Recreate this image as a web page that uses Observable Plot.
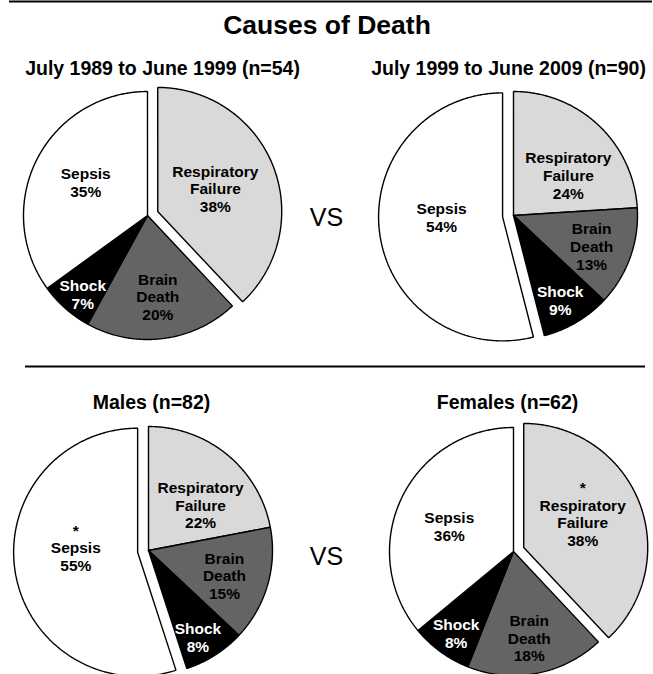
<!DOCTYPE html>
<html><head><meta charset="utf-8">
<script src="https://cdn.jsdelivr.net/npm/d3@7"></script>
<script src="https://cdn.jsdelivr.net/npm/@observablehq/plot@0.6"></script>
<style>body{margin:0;background:#fff;}</style>
</head><body><div id="chart"></div>
<script>
// ---- data ----
const title = "Causes of Death";
const versus = "VS";
const causes = ["Respiratory Failure", "Brain Death", "Shock", "Sepsis"];
const labelLines = [["Respiratory", "Failure"], ["Brain", "Death"], ["Shock"], ["Sepsis"]];
const panelTitles = ["July 1989 to June 1999 (n=54)", "July 1999 to June 2009 (n=90)", "Males (n=82)", "Females (n=62)"];
const pct1989 = [38, 20, 7, 35];
const pct1999 = [24, 13, 9, 54];
const pctMales = [22, 15, 8, 55];
const pctFemales = [38, 18, 8, 36];
const explodedSlice = ["Respiratory Failure", "Sepsis", "Sepsis", "Respiratory Failure"];
const starredSlice = [null, null, "Sepsis", "Respiratory Failure"];
const sliceColors = ["#d9d9d9", "#646464", "#000000", "#ffffff"];

// ---- layout ----
const W = 653, H = 674;
const R = 124, EXPLODE = 11;
const centers = [[147, 215], [513, 215], [148, 550], [513, 551]];
const panelTitlePos = [[162, 74], [508, 74], [151, 408], [507, 408]];
const vsPos = [[326, 225], [326, 564]];
const labelLayout = [ // [radius px, angle tweak deg] in causes order
  [[62, 0], [82, 0], [102, -2], [70, 1]],
  [[68, 10.6], [84, 1.8], [97, 1.8], [61, 6.7]],
  [[69, 9.4], [80, 2.2], [100, 2.8], [62, 5.1]],
  [[64, -1.3], [88, 0.5], [100, -1], [69, -3.7]]
];
const FS = 15.5, LH = 17.6;
const font = "'Liberation Sans', Arial, Helvetica, sans-serif";

const series = [pct1989, pct1999, pctMales, pctFemales];
const pts = [], labels = [];
series.forEach((vals, p) => {
  const total = d3.sum(vals);
  let acc = 0;
  vals.forEach((v, i) => {
    const a0 = acc / total * 2 * Math.PI; acc += v; const a1 = acc / total * 2 * Math.PI;
    const mid = (a0 + a1) / 2;
    const off = causes[i] === explodedSlice[p] ? EXPLODE : 0;
    const cx = centers[p][0] + off * Math.sin(mid), cy = centers[p][1] - off * Math.cos(mid);
    const id = p + "-" + i;
    pts.push({id, cause: causes[i], x: cx, y: cy});
    const n = Math.max(2, Math.ceil((a1 - a0) / (Math.PI / 360)));
    for (let k = 0; k <= n; k++) {
      const a = a0 + (a1 - a0) * k / n;
      pts.push({id, cause: causes[i], x: cx + R * Math.sin(a), y: cy - R * Math.cos(a)});
    }
    pts.push({id, cause: causes[i], x: cx, y: cy});
    const [lr, dt] = labelLayout[p][i];
    const la = mid + dt * Math.PI / 180;
    const star = causes[i] === starredSlice[p];
    const lines = [...(star ? ["*"] : []), ...labelLines[i], v + "%"];
    labels.push({cause: causes[i], x: cx + lr * Math.sin(la),
      y: cy - lr * Math.cos(la) - (star ? LH / 2 : 0),
      text: lines.join("\n")});
  });
});

const rules = [{y: 1, x1: 9, x2: 652}, {y: 366, x1: 25, x2: 645}];
const titles = panelTitles.map((t, i) => ({text: t, x: panelTitlePos[i][0], y: panelTitlePos[i][1]}));
const vs = vsPos.map(([x, y]) => ({text: versus, x, y}));

const chart = Plot.plot({
  width: W, height: H, margin: 0,
  x: {domain: [0, W], axis: null},
  y: {domain: [H, 0], axis: null},
  color: {domain: causes, range: sliceColors},
  style: {fontFamily: font, background: "#fff"},
  marks: [
    Plot.ruleY(rules, {y: "y", x1: "x1", x2: "x2", stroke: "black", strokeWidth: 2}),
    Plot.line(pts, {x: "x", y: "y", z: "id", fill: "cause", stroke: "black", strokeWidth: 1.4, strokeLinejoin: "miter"}),
    Plot.text(labels.filter(d => d.cause !== "Shock"), {x: "x", y: "y", text: "text", fill: "black", fontSize: FS, fontWeight: "bold", lineHeight: LH / FS}),
    Plot.text(labels.filter(d => d.cause === "Shock"), {x: "x", y: "y", text: "text", fill: "white", fontSize: FS, fontWeight: "bold", lineHeight: LH / FS}),
    Plot.text([{text: title, x: W / 2, y: 33}], {x: "x", y: "y", text: "text", fontSize: 26.5, fontWeight: "bold", lineAnchor: "bottom", fill: "black"}),
    Plot.text(titles, {x: "x", y: "y", text: "text", fontSize: 19.5, fontWeight: "bold", lineAnchor: "bottom", fill: "black"}),
    Plot.text(vs, {x: "x", y: "y", text: "text", fontSize: 25, fontWeight: "normal", lineAnchor: "bottom", fill: "black"})
  ]
});
document.getElementById("chart").appendChild(chart);
</script>
</body></html>
